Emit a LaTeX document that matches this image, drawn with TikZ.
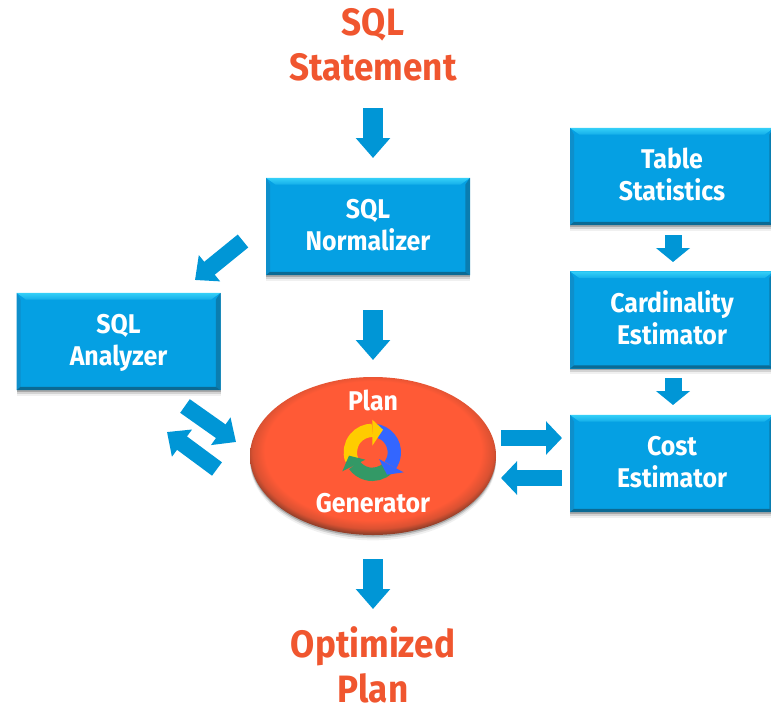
\documentclass[tikz,border=0pt]{standalone}
\usepackage{fontspec}
\setmainfont{Fira Sans}[BoldFeatures={FakeStretch=0.92}]
\usetikzlibrary{arrows.meta,shadows,shapes.geometric,calc}
\definecolor{hpblue}{HTML}{0096D6}
\definecolor{boxfill}{HTML}{05A0E3}
\definecolor{bevtop}{HTML}{35D0F8}
\definecolor{bevleft}{HTML}{0E8FCB}
\definecolor{bevright}{HTML}{0A7DB0}
\definecolor{bevbot}{HTML}{0B6A94}
\definecolor{titlered}{HTML}{F0562F}
\definecolor{ellfill}{HTML}{FF5A36}
\definecolor{ellrim}{HTML}{94402A}
\definecolor{ringyellow}{HTML}{FFCC00}
\definecolor{ringblue}{HTML}{3366FF}
\definecolor{ringgreen}{HTML}{339966}
\pgfdeclareradialshading{ellrimshade}{\pgfpoint{0bp}{3bp}}{%
  color(0bp)=(ellfill); color(22bp)=(ellfill); color(24.5bp)=(ellfill!65!ellrim); color(26bp)=(ellrim); color(50bp)=(ellrim)}
\newcommand{\boxlabel}[2]{\rule{0pt}{16.5pt}#1\\#2\rule[-4pt]{0pt}{4pt}}
\tikzset{
  x=0.75pt,y=-0.75pt,
  softshadow/.style={drop shadow={shadow xshift=0pt,shadow yshift=-1.2pt,fill=black,opacity=.2},
                     drop shadow={shadow xshift=0pt,shadow yshift=-2.5pt,fill=black,opacity=.12},
                     drop shadow={shadow xshift=0pt,shadow yshift=-4pt,fill=black,opacity=.06}},
  bevelbox/.style={rectangle,minimum width=153pt,minimum height=73pt,inner sep=0pt,align=center,
    text=white,font=\fontsize{20.3}{24}\bfseries,softshadow,
    path picture={
      \coordinate (nw) at (path picture bounding box.north west);
      \coordinate (ne) at (path picture bounding box.north east);
      \coordinate (sw) at (path picture bounding box.south west);
      \coordinate (se) at (path picture bounding box.south east);
      \fill[boxfill] (nw) rectangle (se);
      \shade[top color=bevtop,bottom color=boxfill!70!bevtop] (nw) -- (ne) -- ++(-7pt,-5pt) -- ($(nw)+(7pt,-5pt)$) -- cycle;
      \fill[bevleft] (nw) -- (sw) -- ++(3pt,2.5pt) -- ($(nw)+(3pt,-5pt)$) -- cycle;
      \fill[bevright] (ne) -- (se) -- ++(-3.5pt,2.5pt) -- ($(ne)+(-3.5pt,-5pt)$) -- cycle;
      \fill[bevbot] (sw) -- (se) -- ++(-3.5pt,2.5pt) -- ($(sw)+(3pt,2.5pt)$) -- cycle;
    }},
  bigarrow/.style={draw=hpblue,line width=14.5pt,
    -{Triangle[width=25pt,length=15pt,fill=hpblue]}},
  diagarrow/.style={draw=hpblue,line width=12.5pt,
    -{Triangle[width=24.5pt,length=14pt,fill=hpblue]}},
  smallarrow/.style={draw=hpblue,line width=12.75pt,
    -{Triangle[width=25pt,length=10.5pt,fill=hpblue]}},
  sidearrow/.style={draw=hpblue,line width=12.5pt,
    -{Triangle[width=24.5pt,length=12pt,fill=hpblue]}},
  titletext/.style={text=titlered,font=\fontsize{28.6}{34}\bfseries,align=center,inner sep=0pt},
  elltext/.style={text=white,font=\fontsize{20.3}{24}\bfseries,inner sep=0pt},
  ring/.style={line width=10pt},
}
\newcommand{\ringarc}[3]{% colour, start angle, end angle (math orientation)
  \draw[ring,#1] (#2:66) arc[start angle=#2,end angle=#3,radius=66];}
\begin{document}
\begin{tikzpicture}
\useasboundingbox (0,0) rectangle (771,704);
% titles
\node[titletext] (title) at (373,44.5) {SQL\\Statement};
\node[titletext] (result) at (373,665) {Optimized\\Plan};
% boxes
\node[bevelbox] (norm) at (368,226.5) {\boxlabel{SQL}{Normalizer}};
\node[bevelbox] (analyzer) at (118.5,341.5) {\boxlabel{SQL}{Analyzer}};
\node[bevelbox] (stats) at (672,176.5) {\boxlabel{Table}{Statistics}};
\node[bevelbox] (card) at (672,320) {\boxlabel{Cardinality}{Estimator}};
\node[bevelbox] (cost) at (672,463.5) {\boxlabel{Cost}{Estimator}};
% plan generator
\node[ellipse,minimum width=184.5pt,minimum height=118.5pt,inner sep=0pt,shading=ellrimshade,
      softshadow] (plan) at (373,456) {};
\node[elltext] (plantop) at (373,400) {Plan};
\node[elltext] (planbot) at (373,503) {Generator};
\begin{scope}[shift={(333,413)},scale=0.3333]
  \begin{scope}[shift={(118,118)},yscale=-1]
    \ringarc{ringblue}{85}{-35}
    \ringarc{ringgreen}{-45}{-145}
    \ringarc{ringyellow}{200}{90}
  \end{scope}
  \fill[ringyellow] (118,20) -- (150,50) -- (118,98) -- cycle;
  \fill[ringblue] (212,178) -- (162,185) -- (138,138) -- cycle;
  \fill[ringgreen] (28,175) -- (48,128) -- (97,140) -- cycle;
\end{scope}
% connectors
\draw[bigarrow] ($(title)+(0,63.5)$) -- ($(norm)+(5,-68.5)$);
\draw[diagarrow] ($(norm)+(-125,14.5)$) -- ($(analyzer)+(76.5,-61.5)$);
\draw[bigarrow] ($(norm)+(5,83.5)$) -- ($(plan)+(0,-96)$);
\draw[diagarrow] ($(analyzer)+(66.5,64.5)$) -- ($(plan)+(-137,-14)$);
\draw[diagarrow] ($(plan)+(-156,13)$) -- ($(analyzer)+(48.5,90.5)$);
\draw[bigarrow] ($(plan)+(0,103)$) -- ($(result)+(0,-56)$);
\draw[smallarrow] ($(stats)+(1,58.5)$) -- ($(card)+(1,-58)$);
\draw[smallarrow] ($(card)+(1,58)$) -- ($(cost)+(1,-58.5)$);
\draw[sidearrow] ($(plan)+(128,-18)$) -- ($(cost)+(-110,-25.5)$);
\draw[sidearrow] ($(cost)+(-110,14.5)$) -- ($(plan)+(128,22)$);
\end{tikzpicture}
\end{document}
